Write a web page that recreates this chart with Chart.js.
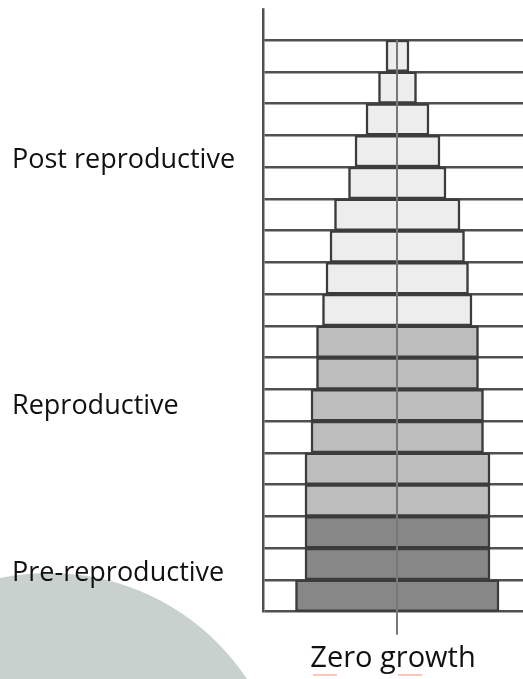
<!DOCTYPE html>
<html>
<head>
<meta charset="utf-8">
<script src="https://cdn.jsdelivr.net/npm/chart.js@4/dist/chart.umd.min.js"></script>
<style>
  html, body { margin: 0; padding: 0; background: #fff; }
  #wrap { position: relative; width: 523px; height: 679px; overflow: hidden; }
  #blob { position: absolute; left: -189px; top: 573px; width: 476px; height: 476px; border-radius: 50%; background: #c9d1ce; }
  .squiggle { position: absolute; top: 674px; height: 2px; width: 24px; background: #f9c9bb; }
  #pyramid { position: absolute; left: 0; top: 0; }
</style>
</head>
<body>
<div id="wrap">
  <div id="blob"></div>
  <canvas id="pyramid" width="523" height="679"></canvas>
  <span class="squiggle" style="left:313px"></span>
  <span class="squiggle" style="left:398px"></span>
</div>
<script>
// age bands, oldest at the top
const ageGroups = ['85+', '80-84', '75-79', '70-74', '65-69', '60-64', '55-59', '50-54', '45-49',
                   '40-44', '35-39', '30-34', '25-29', '20-24', '15-19', '10-14', '5-9', '0-4'];
// share of the population in each band (% per side)
const males   = [1.1, 1.85, 3.1, 4.2, 4.85, 6.25, 6.7, 7.1, 7.45, 8.05, 8.05, 8.6, 8.6, 9.2, 9.2, 9.2, 9.2, 10.15];
const females = [1.2, 1.95, 3.2, 4.3, 4.9, 6.3, 6.75, 7.15, 7.5, 8.15, 8.15, 8.65, 8.65, 9.3, 9.3, 9.3, 9.3, 10.2];
// life stages, top to bottom
const stageNames = ['Post reproductive', 'Reproductive', 'Pre-reproductive'];
const stageBands = [9, 6, 3];             // how many age bands each stage covers
const stageLabelAt = [3.8, 11.52, 16.78]; // where each name sits, counted in bands from the top
const stageColors = ['#ededed', '#bdbdbd', '#878787'];
const xMin = -13.4, xMax = 12.6;

// colour each band by its stage
const bandColors = [];
stageBands.forEach((n, s) => { for (let i = 0; i < n; i++) bandColors.push(stageColors[s]); });

const textFont = 'Open Sans';
const lineColor = '#505050';

// the y axis line runs one band above the first bar
const axisStub = {
    id: 'axisStub',
    beforeDatasetsDraw(chart) {
        const y = chart.scales.y;
        const band = y.getPixelForValue(1) - y.getPixelForValue(0);
        const ctx = chart.ctx;
        ctx.save();
        ctx.strokeStyle = lineColor;
        ctx.lineWidth = 2.5;
        ctx.beginPath();
        ctx.moveTo(y.right + 0.25, chart.chartArea.top - band);
        ctx.lineTo(y.right + 0.25, chart.chartArea.top + 1);
        ctx.stroke();
        ctx.restore();
    }
};

const barStyle = {
    backgroundColor: bandColors,
    borderColor: '#3c3c3c',
    borderWidth: 2.5,
    borderSkipped: 'start',
    barPercentage: 1,
    categoryPercentage: 1
};

new Chart(document.getElementById('pyramid'), {
    type: 'bar',
    data: {
        labels: ageGroups,
        datasets: [
            Object.assign({ label: 'Males', data: males.map(v => -v) }, barStyle),
            Object.assign({ label: 'Females', data: females }, barStyle)
        ]
    },
    options: {
        indexAxis: 'y',
        responsive: false,
        animation: false,
        layout: { padding: { left: 12, top: 40, right: 0, bottom: 0 } },
        plugins: {
            legend: { display: false },
            tooltip: { enabled: false }
        },
        scales: {
            x: {
                stacked: true,
                min: xMin,
                max: xMax,
                afterBuildTicks: axis => { axis.ticks = [{ value: 0 }]; },
                grid: { z: 1, color: '#787878', lineWidth: 2, tickLength: 23 },
                border: { display: false },
                ticks: { display: false },
                title: {
                    display: true,
                    text: 'Zero growth',
                    color: '#111',
                    font: { family: textFont, size: 29 },
                    padding: { top: 6.5, bottom: 3 }
                }
            },
            y: {
                stacked: true,
                grid: { color: lineColor, lineWidth: 2.5, drawTicks: false },
                border: { color: lineColor, width: 2.5 },
                ticks: { display: false }
            },
            // stage names, placed along the same bands
            stages: {
                axis: 'y',
                type: 'linear',
                position: 'left',
                weight: 1,
                offset: false,
                reverse: true,
                min: 0,
                max: ageGroups.length,
                afterBuildTicks: axis => { axis.ticks = stageLabelAt.map(v => ({ value: v })); },
                afterFit: axis => { axis.width = 251; },
                grid: { display: false },
                border: { display: false },
                ticks: {
                    autoSkip: false,
                    crossAlign: 'far',
                    color: '#111',
                    font: { family: textFont, size: 27 },
                    callback: (v, i) => stageNames[i]
                }
            }
        }
    },
    plugins: [axisStub]
});
</script>
</body>
</html>
